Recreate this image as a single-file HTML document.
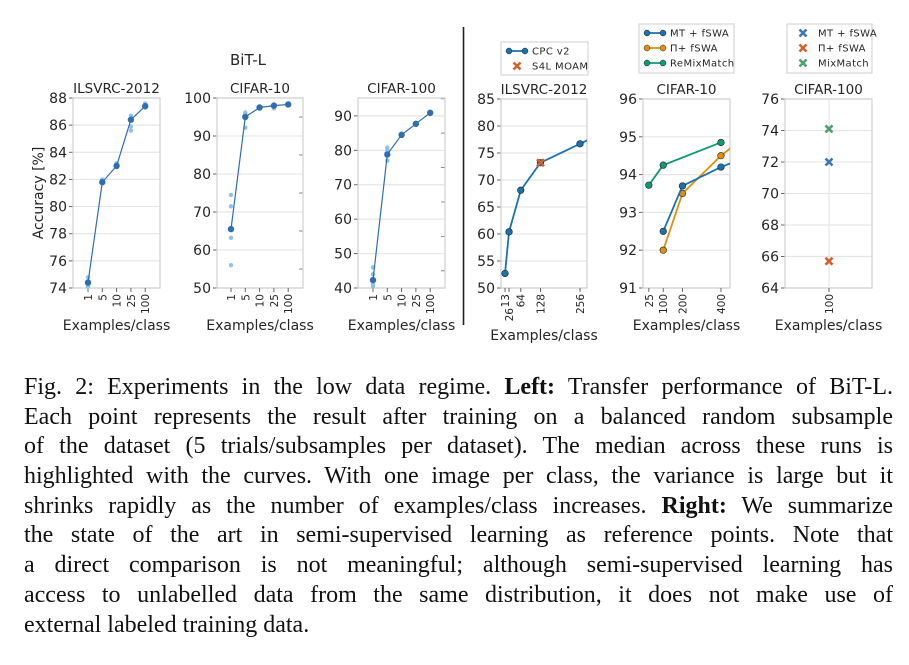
<!DOCTYPE html>
<html><head><meta charset="utf-8"><style>
body{margin:0;background:#fff;width:909px;height:665px;overflow:hidden;position:relative}
svg{position:absolute;left:0;top:0}
svg text{font-family:"DejaVu Sans","Liberation Sans",sans-serif;fill:#262626}
.cap{position:absolute;left:24px;width:869px;font-family:"Liberation Serif",serif;font-size:24px;color:#111;text-align:justify;text-align-last:justify;white-space:nowrap;line-height:30px;height:30px}
</style></head><body>
<svg id="fig" width="909" height="360"></svg>
<div>
<div class="cap" style="top:372px">Fig. 2: Experiments in the low data regime. <b>Left:</b> Transfer performance of BiT-L.</div>
<div class="cap" style="top:402px">Each point represents the result after training on a balanced random subsample</div>
<div class="cap" style="top:431px">of the dataset (5 trials/subsamples per dataset). The median across these runs is</div>
<div class="cap" style="top:461px">highlighted with the curves. With one image per class, the variance is large but it</div>
<div class="cap" style="top:491px">shrinks rapidly as the number of examples/class increases. <b>Right:</b> We summarize</div>
<div class="cap" style="top:520px">the state of the art in semi-supervised learning as reference points. Note that</div>
<div class="cap" style="top:550px">a direct comparison is not meaningful; although semi-supervised learning has</div>
<div class="cap" style="top:580px">access to unlabelled data from the same distribution, it does not make use of</div>
<div class="cap" style="top:610px;text-align-last:left">external labeled training data.</div>
</div>
<script>
// ---- Left: BiT-L data ----
const bitCats = ["1","5","10","25","100"];
const ilsvrcMedian = [74.4, 81.8, 83.0, 86.4, 87.4];
const ilsvrcTrials = [[74.8,74.5,74.2,74.1],[82.0,81.9,81.7],[83.2,83.0,82.9],[86.7,86.5,85.9,85.6],[87.6,87.5,87.3]];
const ilsvrcTicks = [74,76,78,80,82,84,86,88];
const c10Median = [65.5, 95.0, 97.5, 98.0, 98.3];
const c10Trials = [[74.5,71.5,63.2,56.0],[96.2,95.8,92.2],[97.4,97.6],[97.3,98.2],[98.5,98.2]];
const c10Ticks = [50,60,70,80,90,100];
const c100Median = [42.3, 78.8, 84.5, 87.7, 90.9];
const c100Trials = [[46,44,41,40.5],[80.8,80,77],[84.2,84.8],[87.5],[91.2,90.6]];
const c100Ticks = [40,50,60,70,80,90];
// ---- Right: semi-supervised ----
const cpcX = [13, 26, 64, 128, 256, 300];
const cpcY = [52.7, 60.4, 68.1, 73.2, 76.7, 77.9];
const s4lX = [128];
const s4lY = [73.2];
const inTicksX = [13, 26, 64, 128, 256];
const inTicksY = [50,55,60,65,70,75,80,85];
const mtX = [100, 200, 400, 500];
const mtY = [92.5, 93.7, 94.2, 94.4];
const piX = [100, 200, 400, 500];
const piY = [92.0, 93.5, 94.5, 94.9];
const remixX = [25, 100, 400];
const remixY = [93.72, 94.25, 94.85];
const c10sTicksX = [25, 100, 200, 400];
const c10sTicksY = [91,92,93,94,95,96];
const c100sCats = ["100"];
const c100sMT = [72.0];
const c100sPi = [65.7];
const c100sMix = [74.1];
const c100sTicksY = [64,66,68,70,72,74,76];

const NS="http://www.w3.org/2000/svg";
const svg=document.getElementById('fig');
function el(tag,attrs,parent){const e=document.createElementNS(NS,tag);for(const k in attrs)e.setAttribute(k,attrs[k]);(parent||svg).appendChild(e);return e;}
function txt(s,attrs,parent){const t=el('text',attrs,parent);t.textContent=s;return t;}
function lin(d0,d1,r0,r1){return v=>r0+(v-d0)/(d1-d0)*(r1-r0);}

function frame(name,x0,x1,y0,y1,yd0,yd1,ticks,minor,title,xlabelY){
  const g=el('g',{});
  
  
  const y=lin(yd0,yd1,y1,y0);
  ticks.forEach(t=>{
    const gl=el('line',{x1:x0,x2:x1,y1:y(t),y2:y(t),stroke:'#e6e6e6','stroke-width':1.2},g);
    
    
    el('line',{x1:x0-4,x2:x0,y1:y(t),y2:y(t),stroke:'#666','stroke-width':1},g);
    const tl=txt(String(t),{x:x0-6,y:y(t)+5,'text-anchor':'end','font-size':14},g);
    
    
  });
  (minor||[]).forEach(t=>{el('line',{x1:x1-4,x2:x1,y1:y(t),y2:y(t),stroke:'#888','stroke-width':1},g);});
  const box=el('rect',{x:x0,y:y0,width:x1-x0,height:y1-y0,fill:'none',stroke:'#d0d0d0','stroke-width':1.2},g);
  
  
  const tt=txt(title,{x:(x0+x1)/2,y:y0-5,'text-anchor':'middle','font-size':13.5},g);
  
  
  const xl=txt('Examples/class',{x:(x0+x1)/2,y:xlabelY,'text-anchor':'middle','font-size':14},g);
  
  
  return {g,y};
}
function xtick(g,label,px,yb,extra){
  el('line',{x1:px,x2:px,y1:yb,y2:yb+4,stroke:'#666','stroke-width':1},g);
  const t=txt(label,{transform:`translate(${px+4},${yb+6+(extra||0)}) rotate(-90)`,'text-anchor':'end','font-size':10.5},g);
  
  
}

function bitPanel(name,x0,x1,firstX,yd0,yd1,ticks,minor,title,med,trials){
  const f=frame(name,x0,x1,98,288,yd0,yd1,ticks,minor,title,330);
  const step=14.3;
  const xs=i=>firstX+i*step;
  bitCats.forEach((c,i)=>xtick(f.g,c,xs(i),288));
  trials.forEach((arr,i)=>arr.forEach(v=>{
    const p=el('circle',{cx:xs(i),cy:f.y(v),r:2.2,fill:'#8fc1ea'},f.g);
    
    
  }));
  const pl=el('polyline',{points:med.map((v,i)=>xs(i)+','+f.y(v)).join(' '),fill:'none',stroke:'#2f6eb3','stroke-width':1.2},f.g);
  
  
  med.forEach((v,i)=>{
    const p=el('circle',{cx:xs(i),cy:f.y(v),r:3.2,fill:'#2f6eb3'},f.g);
    
    
  });
}
bitPanel('bit-ilsvrc-panel',73,160,88,74,88,ilsvrcTicks,[],'ILSVRC-2012',ilsvrcMedian,ilsvrcTrials);
bitPanel('bit-cifar10-panel',217,303,231,50,100,c10Ticks,[55,65,75,85,95],'CIFAR-10',c10Median,c10Trials);
bitPanel('bit-cifar100-panel',358,445,373,40,95.2,c100Ticks,[45,55,65,75,85,95],'CIFAR-100',c100Median,c100Trials);

const bt=txt('BiT-L',{x:248,y:65,'text-anchor':'middle','font-size':15});


const yt=txt('Accuracy [%]',{transform:'translate(43,193) rotate(-90)','text-anchor':'middle','font-size':14});


const dv=el('line',{x1:463.5,x2:463.5,y1:27,y2:325,stroke:'#222','stroke-width':1.6});



let clipN=0;
function clipFor(x0,x1,y0,y1){const id='c'+(clipN++);const cp=el('clipPath',{id});el('rect',{x:x0,y:y0-6,width:x1-x0,height:y1-y0+12},cp);return 'url(#'+id+')';}
function series(g,xs,ys,X,Y,color,clip,name){
  const sg=el('g',{'clip-path':clip},g);
  
  
  el('polyline',{points:xs.map((v,i)=>X(v)+','+Y(ys[i])).join(' '),fill:'none',stroke:color,'stroke-width':1.8},sg);
  xs.forEach((v,i)=>{
    const p=el('circle',{cx:X(v),cy:Y(ys[i]),r:3.3,fill:color,stroke:'#222','stroke-width':0.6},sg);
    
    
  });
}
function cross(g,cx,cy,color,name){
  const p=el('path',{d:`M${cx-3.5},${cy-3.5}L${cx+3.5},${cy+3.5}M${cx+3.5},${cy-3.5}L${cx-3.5},${cy+3.5}`,stroke:color,'stroke-width':2.6,'stroke-linecap':'butt'},g);
  
  
}
function legend(name,x,y,w,h,items){
  const g=el('g',{});
  
  
  el('rect',{x,y,width:w,height:h,fill:'#fff',stroke:'#ccc','stroke-width':1},g);
  items.forEach((it,i)=>{
    const yy=y+9+i*15;
    const e=el('g',{},g);
    
    
    if(it.type==='line'){el('line',{x1:x+6,x2:x+26,y1:yy,y2:yy,stroke:it.c,'stroke-width':1.8},e);el('circle',{cx:x+8,cy:yy,r:3,fill:it.c,stroke:'#222','stroke-width':.5},e);el('circle',{cx:x+24,cy:yy,r:3,fill:it.c,stroke:'#222','stroke-width':.5},e);}
    else cross(e,x+16,yy,it.c,'legend-marker');
    txt(it.label,{x:x+31,y:yy+3.5,'font-size':10,'letter-spacing':'0.4'},e);
  });
}

// Panel 4: ILSVRC semi
(function(){
  const x0=501,x1=587,y0=99,y1=288;
  const f=frame('semi-ilsvrc-panel',x0,x1,y0,y1,50,85,inTicksY,[],'ILSVRC-2012',340);
  const X=lin(0,278.7,x0,x1);
  inTicksX.forEach(v=>xtick(f.g,String(v),X(v),y1,v===26?14:0));
  const clip=clipFor(x0,x1,y0,y1);
  series(f.g,cpcX,cpcY,X,f.y,'#1a72b0',clip,'cpc-v2-series');
  s4lX.forEach((v,i)=>cross(f.g,X(v),f.y(s4lY[i]),'#d0632c','s4l-moam-point'));
})();
legend('legend-ilsvrc',501,42,87,33,[{type:'line',c:'#1a72b0',label:'CPC  v2'},{type:'x',c:'#d0632c',label:'S4L MOAM'}]);

// Panel 5: CIFAR-10 semi
(function(){
  const x0=643,x1=730,y0=99,y1=288;
  const f=frame('semi-cifar10-panel',x0,x1,y0,y1,91,96,c10sTicksY,[],'CIFAR-10',330);
  const X=lin(0,447,644,730);
  c10sTicksX.forEach(v=>xtick(f.g,String(v),X(v),y1));
  const clip=clipFor(x0,x1,y0,y1);
  series(f.g,remixX,remixY,X,f.y,'#0e9a72',clip,'remixmatch-series');
  series(f.g,piX,piY,X,f.y,'#de9010',clip,'pi-fswa-series');
  series(f.g,mtX,mtY,X,f.y,'#1a72b0',clip,'mt-fswa-series');
})();
legend('legend-cifar10',639,24,95,49,[{type:'line',c:'#1a72b0',label:'MT + fSWA'},{type:'line',c:'#de9010',label:'Π+ fSWA'},{type:'line',c:'#0e9a72',label:'ReMixMatch'}]);

// Panel 6: CIFAR-100 semi
(function(){
  const x0=785,x1=872,y0=99,y1=288;
  const f=frame('semi-cifar100-panel',x0,x1,y0,y1,64,76,c100sTicksY,[],'CIFAR-100',330);
  const X=i=>829+i*30;
  c100sCats.forEach((c,i)=>{
    const v=el('line',{x1:X(i),x2:X(i),y1:y0,y2:y1,stroke:'#e6e6e6','stroke-width':1.2},f.g);
    
    
    xtick(f.g,c,X(i),y1);
    cross(f.g,X(i),f.y(c100sMT[i]),'#3a78b4','mt-fswa-point');
    cross(f.g,X(i),f.y(c100sPi[i]),'#d0632c','pi-fswa-point');
    cross(f.g,X(i),f.y(c100sMix[i]),'#4f9f72','mixmatch-point');
  });
})();
legend('legend-cifar100',787,24,85,49,[{type:'x',c:'#3a78b4',label:'MT + fSWA'},{type:'x',c:'#d0632c',label:'Π+ fSWA'},{type:'x',c:'#4f9f72',label:'MixMatch'}]);
</script>
</body></html>
